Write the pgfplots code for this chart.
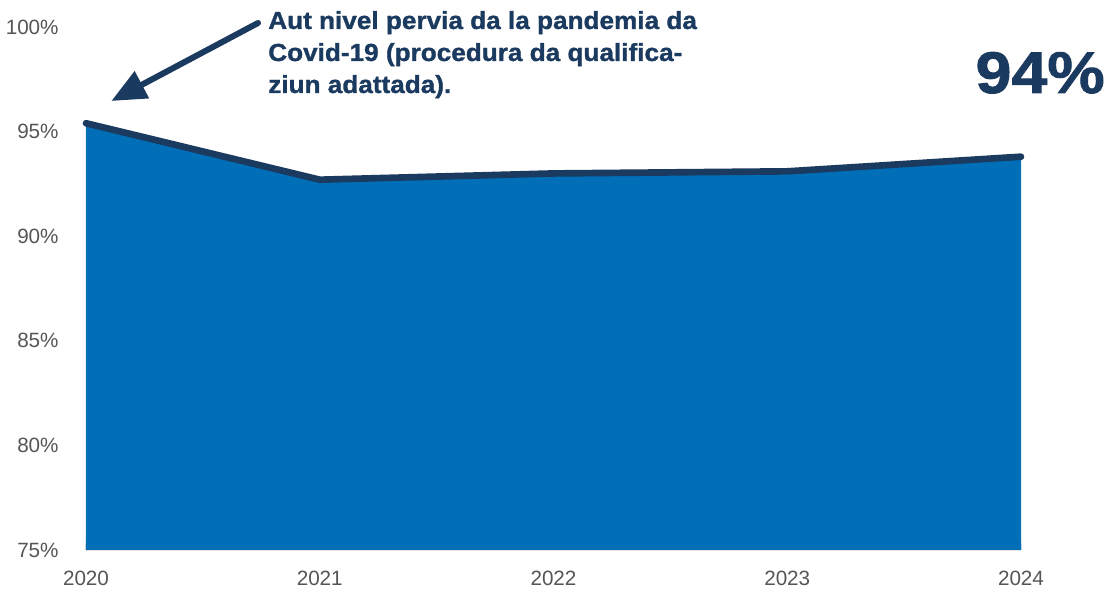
\documentclass[border=0pt]{standalone}
\usepackage{pgfplots}
\pgfplotsset{compat=1.18}
\usepackage{fontspec}
\setmainfont{Liberation Sans}
\newfontfamily\heavyfont[FakeBold=1.2, FakeStretch=1.06]{Liberation Sans Bold}
\newfontfamily\bigfont[FakeBold=1.5, FakeStretch=1.1]{Liberation Sans Bold}
\usetikzlibrary{arrows.meta}
\definecolor{areablue}{HTML}{006FB7}
\definecolor{navy}{HTML}{1B3A5F}
\definecolor{tickgray}{HTML}{555555}
\definecolor{gridgray}{HTML}{E3E3E3}
\begin{document}
\begin{tikzpicture}
\begin{axis}[
  at={(0,0)}, anchor=south west,
  scale only axis,
  width=701.25pt, height=392.25pt,
  xmin=2020, xmax=2024,
  ymin=75, ymax=100,
  xtick={2020,2021,2022,2023,2024},
  xticklabels={2020,2021,2022,2023,2024},
  ytick={75,80,85,90,95,100},
  yticklabels={75\%,80\%,85\%,90\%,95\%,100\%},
  ymajorgrids, grid style={gridgray, line width=1pt},
  axis line style={draw=none},
  axis x line*=bottom,
  x axis line style={draw=gridgray, line width=1pt},
  axis y line=none,
  xtick style={draw=gridgray, line width=1pt},
  major tick length=5pt,
  tick label style={font=\fontsize{15.5}{18}\selectfont, text=tickgray},
  /pgf/number format/assume math mode=true,
  xticklabel style={yshift=-12pt},
  clip=false,
]
\addplot[fill=areablue, draw=none] coordinates {
  (2020,95.4) (2021,92.7) (2022,93.0) (2023,93.1) (2024,93.8)
} \closedcycle;
\addplot[navy, line width=5pt, line join=round, line cap=round] coordinates {
  (2020,95.4) (2021,92.7) (2022,93.0) (2023,93.1) (2024,93.8)
};
\pgfplotsinvokeforeach{75,80,85,90,95,100}{
  \node[anchor=east, font=\fontsize{15.5}{18}\selectfont, text=tickgray] at (axis cs:2020,#1) [xshift=-17pt] {#1\%};
}
\end{axis}
\draw[navy, line width=4.5pt, line cap=round, -{Triangle[length=26pt,width=22pt]}] (129pt,395.25pt) -- (19pt,336.75pt);
\node[anchor=base west, text=navy, font=\fontsize{18.5}{24}\heavyfont, inner sep=0pt] at (136.5pt,390.75pt) {Aut nivel pervia da la pandemia da};
\node[anchor=base west, text=navy, font=\fontsize{18.5}{24}\heavyfont, inner sep=0pt] at (136.5pt,366.75pt) {Covid-19 (procedura da qualifica-};
\node[anchor=base west, text=navy, font=\fontsize{18.5}{24}\heavyfont, inner sep=0pt] at (136.5pt,342.75pt) {ziun adattada).};
\node[anchor=base east, text=navy, font=\fontsize{44}{50}\bigfont, inner sep=0pt] at (764.25pt,342.75pt) {94\%};
\pgfresetboundingbox
\path[use as bounding box] (-64.5pt,-30.75pt) rectangle (767.25pt,412.5pt);
\end{tikzpicture}
\end{document}
